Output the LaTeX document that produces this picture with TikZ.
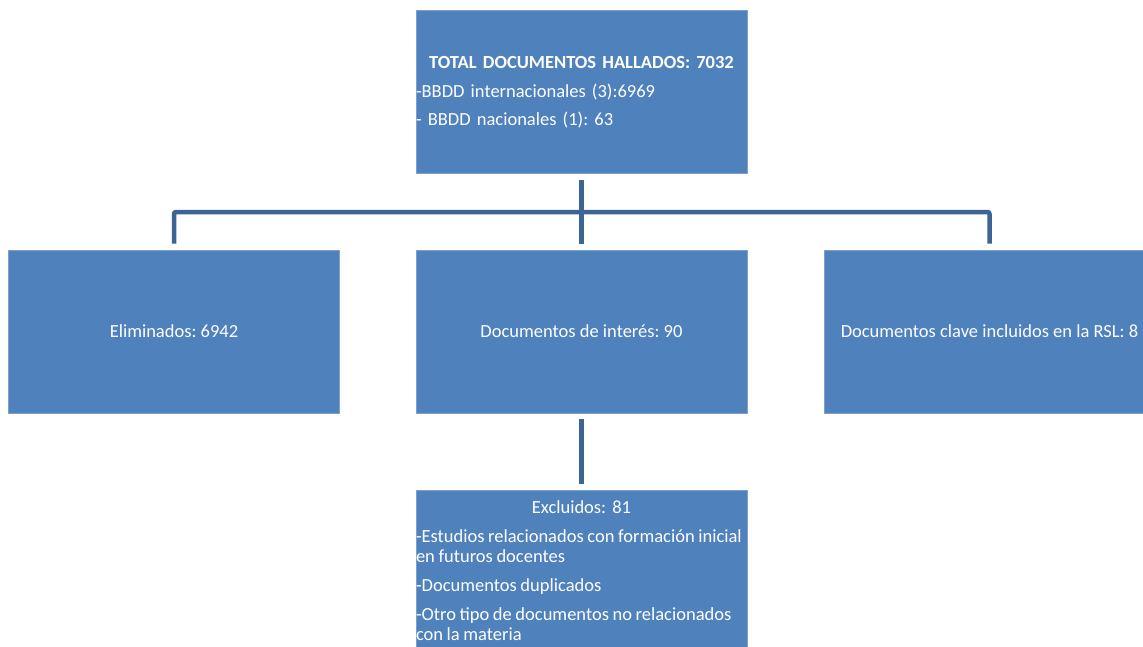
\documentclass[tikz,border=0pt]{standalone}
\usepackage{fontspec}
\setmainfont{Carlito}
\frenchspacing
\newcommand\mytightspace{\spaceskip=3.6pt\relax}
\definecolor{boxfill}{HTML}{4F81BD}
\definecolor{boxedge}{HTML}{7E9FCB}
\definecolor{connc}{HTML}{3C6494}
\begin{document}
\begin{tikzpicture}[x=1pt,y=-1pt,
  box/.style={draw=boxedge, line width=0.8pt, fill=boxfill, text=white,
    minimum width=331pt, minimum height=163pt, inner sep=0pt,
    font=\fontsize{18.5}{20}\selectfont\frenchspacing},
  conn/.style={draw=connc, line width=4.5pt, rounded corners=2pt}]
\useasboundingbox (0,0) rectangle (1143,646);
\node[box, text width=331pt, align=left] (top) at (581.5,92)
  {\makebox[331pt][c]{\bfseries TOTAL DOCUMENTOS HALLADOS: 7032}\\[9pt]
   \mbox{-BBDD internacionales (3):6969}\\[8pt]
   \mbox{- BBDD nacionales (1): 63}};
\node[box, align=center] (left) at (174,331.5) {Eliminados: 6942};
\node[box, align=center] (mid) at (581.5,331.5) {Documentos de interés: 90};
\node[box, align=center] (right) at (989.5,331.5) {Documentos clave incluidos en la RSL: 8};
\node[box, text width=331pt, align=left, minimum height=162pt] (bot) at (581.5,571)
  {\makebox[331pt][c]{Excluidos: 81}\\[9pt]
   \mbox{\mytightspace -Estudios relacionados con formación inicial}\\
   \mbox{\mytightspace en futuros docentes}\\[9pt]
   \mbox{\mytightspace -Documentos duplicados}\\[9pt]
   \mbox{\mytightspace -Otro tipo de documentos no relacionados}\\
   \mbox{\mytightspace con la materia}};
\coordinate (bus) at (581.5,212);
\draw[conn] ([yshift=-6pt]top.south) -- ([yshift=6pt]mid.north);
\draw[conn] ([yshift=6pt]left.north) -- (left.north |- bus) -- (right.north |- bus) -- ([yshift=6pt]right.north);
\draw[conn] ([yshift=-6pt]mid.south) -- ([yshift=6pt]bot.north);
\end{tikzpicture}
\end{document}
